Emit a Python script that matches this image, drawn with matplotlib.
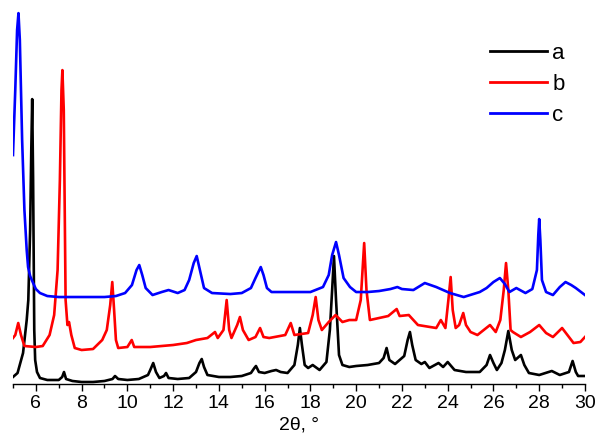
import matplotlib.pyplot as plt
import numpy as np

# XRD patterns, values (2theta, intensity a.u.)
two_theta_a = [5.0, 5.2, 5.44, 5.6, 5.67, 5.75, 5.8, 5.84, 5.88, 5.93, 5.97, 6.05, 6.18, 6.5, 7.0, 7.15, 7.23, 7.32,
               7.6, 8.0, 8.5, 9.0, 9.35, 9.46, 9.6, 10.0, 10.5, 10.9, 11.0, 11.13, 11.25, 11.4, 11.6, 11.69, 11.8,
               12.2, 12.7, 13.0, 13.15, 13.25, 13.35, 13.5, 14.0, 14.5, 15.0, 15.4, 15.55, 15.62, 15.75, 16.0,
               16.3, 16.5, 16.7, 17.0, 17.3, 17.45, 17.54, 17.63, 17.75, 17.9, 18.1, 18.4, 18.7, 18.85, 18.95,
               19.03, 19.12, 19.25, 19.4, 19.7, 20.0, 20.5, 21.0, 21.2, 21.33, 21.45, 21.7, 21.9, 22.1, 22.25,
               22.35, 22.45, 22.6, 22.85, 23.0, 23.2, 23.6, 23.8, 24.0, 24.3, 24.8, 25.4, 25.7, 25.85, 26.0,
               26.15, 26.35, 26.5, 26.65, 26.8, 26.95, 27.2, 27.35, 27.55, 28.0, 28.55, 28.9, 29.3, 29.46, 29.6,
               29.7, 30.0]
intensity_a = [7, 11, 31, 64, 84, 154, 234, 285, 204, 54, 24, 12, 6, 4, 4, 7, 12, 5,
               3, 2, 2, 3, 5, 8, 5, 4, 5, 9, 14, 21, 12, 6, 8, 11, 6,
               5, 6, 12, 21, 25, 17, 9, 7, 7, 8, 11, 16, 18, 12, 11,
               13, 14, 12, 11, 19, 39, 56, 39, 19, 16, 19, 14, 22, 54, 94,
               128, 84, 29, 19, 17, 18, 19, 21, 26, 36, 24, 20, 24, 28, 44,
               52, 39, 24, 20, 22, 16, 21, 17, 22, 14, 12, 12, 19, 29, 21,
               14, 21, 34, 53, 34, 24, 29, 19, 11, 9, 13, 9, 12, 23, 12,
               8, 8]

two_theta_b = [5.0, 5.1, 5.23, 5.35, 5.5, 6.0, 6.3, 6.6, 6.8, 6.95, 7.05, 7.12, 7.16, 7.22, 7.3, 7.38, 7.45, 7.55,
               7.7, 8.0, 8.5, 8.9, 9.1, 9.25, 9.34, 9.42, 9.5, 9.6, 10.0, 10.19, 10.3, 11.0, 12.0, 12.6, 13.0,
               13.5, 13.83, 13.95, 14.2, 14.34, 14.45, 14.55, 14.8, 14.92, 15.05, 15.3, 15.6, 15.8, 15.95, 16.2,
               16.9, 17.14, 17.3, 17.9, 18.1, 18.23, 18.35, 18.5, 18.8, 19.1, 19.4, 19.7, 20.0, 20.2, 20.35,
               20.45, 20.6, 21.0, 21.4, 21.77, 21.9, 22.3, 22.7, 23.5, 23.7, 23.9, 24.03, 24.13, 24.22, 24.35,
               24.5, 24.68, 24.8, 25.0, 25.3, 25.85, 26.1, 26.3, 26.45, 26.55, 26.65, 26.75, 26.85, 27.2, 27.6,
               28.0, 28.3, 28.6, 29.0, 29.2, 29.5, 29.8, 30.0]
intensity_b = [46, 49, 61, 49, 38, 37, 38, 49, 69, 114, 204, 294, 314, 274, 84, 59, 62, 49,
               36, 34, 35, 44, 54, 79, 102, 74, 44, 36, 37, 44, 37, 37, 39, 41, 44,
               46, 52, 46, 54, 84, 54, 46, 59, 67, 54, 44, 47, 56, 47, 46,
               49, 61, 49, 51, 69, 87, 64, 54, 62, 69, 62, 64, 64, 84, 141,
               94, 64, 66, 68, 75, 68, 69, 59, 56, 64, 56, 84, 107, 74, 56,
               59, 71, 59, 52, 49, 59, 52, 64, 94, 121, 94, 54, 52, 47, 52,
               59, 51, 47, 56, 50, 41, 42, 47]

two_theta_c = [5.0, 5.1, 5.18, 5.24, 5.3, 5.4, 5.5, 5.6, 5.66, 5.75, 5.88, 6.0, 6.18, 6.5, 7.0, 8.0, 9.0, 9.5,
               9.9, 10.2, 10.4, 10.52, 10.65, 10.8, 11.1, 11.5, 11.8, 12.2, 12.5, 12.7, 12.9, 13.03, 13.15,
               13.35, 13.7, 14.5, 15.0, 15.4, 15.6, 15.83, 15.95, 16.1, 16.3, 17.0, 18.0, 18.55, 18.8, 18.95,
               19.12, 19.25, 19.45, 19.73, 20.0, 20.5, 21.0, 21.5, 21.8, 22.0, 22.5, 23.0, 23.5, 24.1, 24.7,
               25.4, 25.7, 26.0, 26.28, 26.5, 26.7, 27.0, 27.4, 27.7, 27.9, 27.96, 28.0, 28.05, 28.12, 28.3,
               28.6, 28.9, 29.15, 29.4, 29.6, 30.0]
intensity_c = [229, 294, 354, 371, 344, 244, 174, 134, 117, 108, 101, 95, 91, 88, 87, 87, 87, 88,
               91, 99, 114, 119, 109, 96, 89, 92, 94, 91, 94, 104, 121, 128, 116,
               96, 91, 90, 91, 96, 106, 117, 109, 96, 92, 92, 92, 97, 109, 129,
               142, 129, 106, 97, 92, 92, 93, 95, 97, 95, 94, 101, 97, 91, 87,
               92, 96, 102, 106, 100, 92, 96, 91, 95, 114, 149, 165, 144, 104, 92,
               89, 97, 102, 99, 96, 89]

labels = ["a", "b", "c"]
colors = ["black", "red", "blue"]
x_ticks = np.arange(6, 31, 2)

plt.rcParams['font.family'] = ['Liberation Sans', 'DejaVu Sans']

fig = plt.figure(figsize=(5.98, 4.38), dpi=100)
ax = fig.add_axes([0.0217, 0.1233, 0.9565, 0.865])

# draw the three patterns
for xs, ys, lab, col in zip([two_theta_a, two_theta_b, two_theta_c],
                            [intensity_a, intensity_b, intensity_c], labels, colors):
    ax.plot(xs, ys, color=col, linewidth=1.9, label=lab)

ax.set_xlim(5, 30)
ax.set_ylim(0, 379)

# only the bottom axis is shown
for side in ["left", "right", "top"]:
    ax.spines[side].set_visible(False)
ax.spines["bottom"].set_linewidth(1.0)
ax.set_yticks([])
ax.set_xticks(x_ticks)
ax.set_xticks(np.arange(5, 31, 1), minor=True)
ax.tick_params(axis="x", which="major", direction="out", length=5, width=1, labelsize=14, pad=3)
ax.tick_params(axis="x", which="minor", direction="out", length=3, width=1)
ax.set_xlabel("2θ, °", fontsize=14, labelpad=3)

leg = ax.legend(loc="upper left", frameon=False, fontsize=16, handlelength=2.55,
                labelspacing=0.45, handletextpad=0.25, borderpad=0, borderaxespad=0,
                bbox_to_anchor=(490 / 598, 1 - 43 / 438), bbox_transform=fig.transFigure)
for line in leg.get_lines():
    line.set_linewidth(2.0)

fig.savefig("out.png", dpi=100)
